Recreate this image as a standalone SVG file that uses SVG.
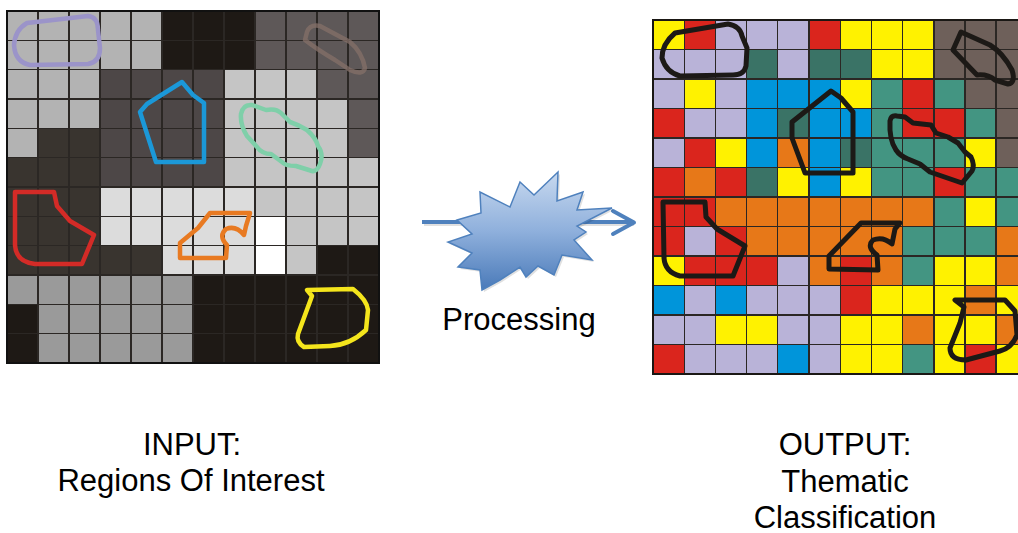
<svg xmlns="http://www.w3.org/2000/svg" width="1018" height="533" viewBox="0 0 1018 533">
<style>
.gl{stroke:#2b2724;stroke-width:1.4;fill:none;vector-effect:non-scaling-stroke}
.L{fill:#b3b3b3}.K{fill:#1e1915}.D{fill:#5e5858}.M{fill:#4d4747}.V{fill:#39342f}.P{fill:#c5c5c5}.W{fill:#dcdcdc}.H{fill:#ffffff}.G{fill:#9a9a9a}
.Y{fill:#fff200}.R{fill:#da251d}.A{fill:#b9b3d8}.T{fill:#3a7366}.E{fill:#439582}.B{fill:#0095da}.O{fill:#e77818}.N{fill:#6e605a}
.roi{fill:none;stroke-width:4.5;stroke-linejoin:round;stroke-linecap:round}
.cls{fill:none;stroke:#1c1916;stroke-width:5;stroke-linejoin:round;stroke-linecap:round}
.lbl{font-family:"Liberation Sans",Arial,sans-serif;font-size:31px;fill:#000;text-anchor:middle}
</style>
<defs>
<linearGradient id="burstFill" x1="0" y1="0" x2="0" y2="1">
<stop offset="0" stop-color="#c8d9ef"/>
<stop offset="0.5" stop-color="#8fb0dc"/>
<stop offset="1" stop-color="#4a7ab9"/>
</linearGradient>
</defs>

<g id="input-grid">
<g transform="translate(7,11) scale(31,29.333)" shape-rendering="crispEdges">
<rect class="L" x="0" y="0" width="5" height="2"/>
<rect class="L" x="0" y="2" width="3" height="2"/>
<rect class="L" x="0" y="4" width="1" height="1"/>
<rect class="K" x="5" y="0" width="3" height="2"/>
<rect class="K" x="10" y="8" width="2" height="1"/>
<rect class="K" x="6" y="9" width="6" height="3"/>
<rect class="K" x="0" y="10" width="1" height="2"/>
<rect class="D" x="8" y="0" width="4" height="2"/>
<rect class="D" x="10" y="2" width="2" height="1"/>
<rect class="D" x="11" y="3" width="1" height="2"/>
<rect class="M" x="3" y="2" width="4" height="4"/>
<rect class="V" x="1" y="4" width="2" height="1"/>
<rect class="V" x="0" y="5" width="3" height="4"/>
<rect class="V" x="3" y="8" width="2" height="1"/>
<rect class="P" x="7" y="2" width="3" height="1"/>
<rect class="P" x="7" y="3" width="4" height="2"/>
<rect class="P" x="7" y="5" width="5" height="1"/>
<rect class="P" x="8" y="6" width="4" height="1"/>
<rect class="P" x="9" y="7" width="3" height="1"/>
<rect class="P" x="9" y="8" width="1" height="1"/>
<rect class="W" x="3" y="6" width="5" height="2"/>
<rect class="W" x="5" y="8" width="3" height="1"/>
<rect class="H" x="8" y="7" width="1" height="2"/>
<rect class="G" x="0" y="9" width="6" height="1"/>
<rect class="G" x="1" y="10" width="5" height="2"/>
<path class="gl" d="M1 0V12M2 0V12M3 0V12M4 0V12M5 0V12M6 0V12M7 0V12M8 0V12M9 0V12M10 0V12M11 0V12M0 1H12M0 2H12M0 3H12M0 4H12M0 5H12M0 6H12M0 7H12M0 8H12M0 9H12M0 10H12M0 11H12"/>
<rect x="0" y="0" width="12" height="12" fill="none" stroke="#111" stroke-width="2.2" vector-effect="non-scaling-stroke"/>
</g>
<path class="roi" stroke="#9b94c9" d="M27 23 L88 16 Q98 17 98 30 L100 48 Q100 62 88 64 L30 65 Q15 62 14 45 Q15 30 27 23 Z"/>
<path class="roi" stroke="#1b98d8" d="M182 82 L193 95 L204 103 L204 162 L156 162 L140 112 L147 104 Z"/>
<path class="roi" stroke="#857068" stroke-opacity="0.75" stroke-width="3.5" d="M307 32 Q310 24 320 26 L350 42 Q362 52 365 68 Q363 76 350 70 L335 60 Q318 50 305 40 Z"/>
<path class="roi" stroke="#7fcfa9" stroke-width="5" d="M241 114 Q243 104 252 105 L266 110 Q276 108 281 113 L290 122 Q299 125 307 130 Q316 138 318 146 Q324 154 320 164 Q317 172 312 171 L296 166 Q285 166 282 162 L271 154 Q262 154 257 147 L247 136 Q240 125 241 114 Z"/>
<path class="roi" stroke="#d42b27" d="M15 192 L54 192 L57 206 L70 221 L94 235 L82 264 L35 264 Q16 262 15 245 Z"/>
<path class="roi" stroke="#e87a22" d="M180 243 L198 228 L210 213 L250 213 L246 226 L244 235 Q236 225 226 229 Q218 236 227 245 L226 258 L180 258 Z"/>
<path class="roi" stroke="#f4e51c" d="M307 290 L353 289 Q367 300 368 310 L366 330 Q350 345 330 346 L304 347 Q296 342 298 334 L312 296 Z"/>
</g>

<g id="connectors">
<line x1="424" y1="224" x2="634" y2="224" stroke="#000" stroke-opacity="0.12" stroke-width="4"/>
<line x1="422" y1="222" x2="632" y2="222" stroke="#4f81bd" stroke-width="4"/>
<polyline points="613,211 634,222.5 613,234" fill="none" stroke="#4f81bd" stroke-width="4" stroke-linecap="round" stroke-linejoin="round"/>
</g>

<g id="processing">
<polygon points="459,222 483,215 482,194 512,209 522,184 536,197 560,174 559,203 585,194 579,212 614,210 579,228 588,234 576,242 594,262 564,257 556,277 540,268 528,279 522,269 502,282 484,292 482,272 460,269 474,255 450,244 474,236" fill="#000" fill-opacity="0.12"/>
<polygon points="457,220 481,213 480,192 510,207 520,182 534,195 558,172 557,201 583,192 577,210 612,208 577,226 586,232 574,240 592,260 562,255 554,275 538,266 526,277 520,267 500,280 482,290 480,270 458,267 472,253 448,242 472,234" fill="url(#burstFill)" stroke="#4f81bd" stroke-width="1.5" stroke-linejoin="miter"/>
<text class="lbl" x="519" y="330">Processing</text>
</g>

<g id="output-grid">
<g transform="translate(653,20) scale(31.2,29.5)" shape-rendering="crispEdges">
<rect class="Y" x="0" y="0" width="1" height="1"/><rect class="R" x="1" y="0" width="1" height="1"/><rect class="A" x="2" y="0" width="3" height="1"/><rect class="R" x="5" y="0" width="1" height="1"/><rect class="Y" x="6" y="0" width="3" height="1"/><rect class="N" x="9" y="0" width="3" height="1"/>
<rect class="A" x="0" y="1" width="3" height="1"/><rect class="T" x="3" y="1" width="1" height="1"/><rect class="A" x="4" y="1" width="1" height="1"/><rect class="T" x="5" y="1" width="2" height="1"/><rect class="Y" x="7" y="1" width="2" height="1"/><rect class="N" x="9" y="1" width="3" height="1"/>
<rect class="A" x="0" y="2" width="1" height="1"/><rect class="Y" x="1" y="2" width="1" height="1"/><rect class="A" x="2" y="2" width="1" height="1"/><rect class="B" x="3" y="2" width="3" height="1"/><rect class="Y" x="6" y="2" width="1" height="1"/><rect class="E" x="7" y="2" width="1" height="1"/><rect class="R" x="8" y="2" width="1" height="1"/><rect class="E" x="9" y="2" width="1" height="1"/><rect class="N" x="10" y="2" width="2" height="1"/>
<rect class="R" x="0" y="3" width="1" height="1"/><rect class="A" x="1" y="3" width="2" height="1"/><rect class="B" x="3" y="3" width="1" height="1"/><rect class="T" x="4" y="3" width="1" height="1"/><rect class="B" x="5" y="3" width="2" height="1"/><rect class="E" x="7" y="3" width="1" height="1"/><rect class="R" x="8" y="3" width="2" height="1"/><rect class="E" x="10" y="3" width="1" height="1"/><rect class="N" x="11" y="3" width="1" height="1"/>
<rect class="A" x="0" y="4" width="1" height="1"/><rect class="R" x="1" y="4" width="1" height="1"/><rect class="Y" x="2" y="4" width="1" height="1"/><rect class="B" x="3" y="4" width="1" height="1"/><rect class="O" x="4" y="4" width="1" height="1"/><rect class="B" x="5" y="4" width="1" height="1"/><rect class="T" x="6" y="4" width="1" height="1"/><rect class="E" x="7" y="4" width="3" height="1"/><rect class="Y" x="10" y="4" width="1" height="1"/><rect class="N" x="11" y="4" width="1" height="1"/>
<rect class="R" x="0" y="5" width="1" height="1"/><rect class="O" x="1" y="5" width="1" height="1"/><rect class="R" x="2" y="5" width="1" height="1"/><rect class="T" x="3" y="5" width="1" height="1"/><rect class="Y" x="4" y="5" width="1" height="1"/><rect class="B" x="5" y="5" width="1" height="1"/><rect class="Y" x="6" y="5" width="1" height="1"/><rect class="E" x="7" y="5" width="2" height="1"/><rect class="R" x="9" y="5" width="1" height="1"/><rect class="E" x="10" y="5" width="2" height="1"/>
<rect class="R" x="0" y="6" width="2" height="1"/><rect class="O" x="2" y="6" width="7" height="1"/><rect class="E" x="9" y="6" width="1" height="1"/><rect class="Y" x="10" y="6" width="1" height="1"/><rect class="E" x="11" y="6" width="1" height="1"/>
<rect class="R" x="0" y="7" width="1" height="1"/><rect class="A" x="1" y="7" width="1" height="1"/><rect class="R" x="2" y="7" width="1" height="1"/><rect class="O" x="3" y="7" width="5" height="1"/><rect class="E" x="8" y="7" width="3" height="1"/><rect class="O" x="11" y="7" width="1" height="1"/>
<rect class="Y" x="0" y="8" width="1" height="1"/><rect class="R" x="1" y="8" width="3" height="1"/><rect class="A" x="4" y="8" width="1" height="1"/><rect class="O" x="5" y="8" width="1" height="1"/><rect class="R" x="6" y="8" width="1" height="1"/><rect class="O" x="7" y="8" width="1" height="1"/><rect class="E" x="8" y="8" width="1" height="1"/><rect class="Y" x="9" y="8" width="2" height="1"/><rect class="O" x="11" y="8" width="1" height="1"/>
<rect class="B" x="0" y="9" width="1" height="1"/><rect class="A" x="1" y="9" width="1" height="1"/><rect class="B" x="2" y="9" width="1" height="1"/><rect class="A" x="3" y="9" width="3" height="1"/><rect class="R" x="6" y="9" width="1" height="1"/><rect class="Y" x="7" y="9" width="3" height="1"/><rect class="O" x="10" y="9" width="1" height="1"/><rect class="Y" x="11" y="9" width="1" height="1"/>
<rect class="A" x="0" y="10" width="2" height="1"/><rect class="Y" x="2" y="10" width="2" height="1"/><rect class="A" x="4" y="10" width="2" height="1"/><rect class="Y" x="6" y="10" width="2" height="1"/><rect class="O" x="8" y="10" width="1" height="1"/><rect class="Y" x="9" y="10" width="2" height="1"/><rect class="O" x="11" y="10" width="1" height="1"/>
<rect class="R" x="0" y="11" width="1" height="1"/><rect class="A" x="1" y="11" width="3" height="1"/><rect class="B" x="4" y="11" width="1" height="1"/><rect class="A" x="5" y="11" width="1" height="1"/><rect class="Y" x="6" y="11" width="2" height="1"/><rect class="E" x="8" y="11" width="1" height="1"/><rect class="Y" x="9" y="11" width="1" height="1"/><rect class="R" x="10" y="11" width="1" height="1"/><rect class="Y" x="11" y="11" width="1" height="1"/>
<path class="gl" d="M1 0V12M2 0V12M3 0V12M4 0V12M5 0V12M6 0V12M7 0V12M8 0V12M9 0V12M10 0V12M11 0V12M0 1H12M0 2H12M0 3H12M0 4H12M0 5H12M0 6H12M0 7H12M0 8H12M0 9H12M0 10H12M0 11H12"/>
<path d="M12 0H0V12H12" fill="none" stroke="#1a1714" stroke-width="2" vector-effect="non-scaling-stroke"/>
</g>
<path class="cls" d="M675 33 L728 24 Q740 26 742 36 L747 48 L746 66 Q744 75 733 75 L680 76 Q666 72 662 58 Q662 44 675 33 Z"/>
<path class="cls" d="M792 122 L831 91 L841 98 L853 112 L853 173 L805 173 L792 138 Z"/>
<path class="cls" d="M961 32 L990 45 Q1003 53 1012 70 Q1016 83 1008 84 L995 80 Q988 74 977 75 L953 50 Z"/>
<path class="cls" d="M890 121 Q891 115 897 116 L905 117 L913 123 L931 125 L936 133 L948 137 L958 143 L965 152 L971 157 Q975 165 972 171 L962 183 L930 172 L920 164 L908 159 Q900 156 896 150 Q889 140 890 121 Z"/>
<path class="cls" d="M663 202 L705 202 L706 217 L717 229 L745 246 L733 276 L680 276 Q665 272 664 258 Z"/>
<path class="cls" d="M829 269 L829 256 L861 223 L900 223 L895 229 L892 244 Q883 236 873 240 Q866 247 877 255 L878 270 Z"/>
<path class="cls" d="M955 300 L1005 300 L1015 311 L1017 335 Q1012 348 1000 351 L966 360 Q950 360 950 348 L960 323 L964 307 Z"/>
</g>

<g id="input-label">
<text class="lbl" x="192" y="455">INPUT:</text>
<text class="lbl" x="191" y="491">Regions Of Interest</text>
</g>
<g id="output-label">
<text class="lbl" x="845" y="455">OUTPUT:</text>
<text class="lbl" x="845" y="492">Thematic</text>
<text class="lbl" x="845" y="528">Classification</text>
</g>
</svg>
